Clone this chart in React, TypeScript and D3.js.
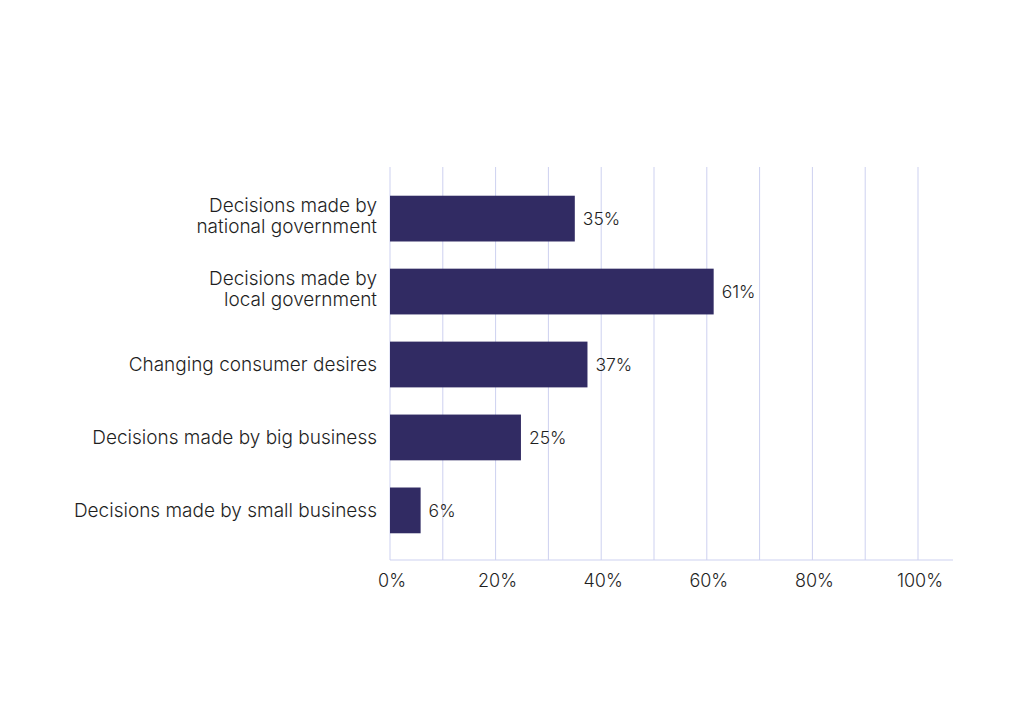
import React from "react";
import * as d3 from "d3";

const categories: string[][] = [
  ["Decisions made by", "national government"],
  ["Decisions made by", "local government"],
  ["Changing consumer desires"],
  ["Decisions made by big business"],
  ["Decisions made by small business"],
];
const values: number[] = [35, 61.3, 37.4, 24.8, 5.8];
const valueLabels: string[] = ["35%", "61%", "37%", "25%", "6%"];
const gridTicks: number[] = [0, 10, 20, 30, 40, 50, 60, 70, 80, 90, 100];
const axisTicks: number[] = [0, 20, 40, 60, 80, 100];

const W = 1024;
const H = 725;
const FONT = "Inter, 'Open Sans', sans-serif";

export default function App() {
  const x = d3.scaleLinear().domain([0, 100]).range([390, 918]);
  const ids = categories.map((_, i) => String(i));
  const y = d3
    .scaleBand<string>()
    .domain(ids)
    .range([168, 561])
    .paddingInner(0.3725)
    .paddingOuter(0.38);
  const barColor = "#312b63";
  const gridColor = "#cdd1f0";
  const textColor = "#1f1f1f";
  const lineH = 21;

  return (
    <svg
      width={W}
      height={H}
      style={{ position: "absolute", left: 0, top: 0, background: "#fff" }}
      fontFamily={FONT}
      fontWeight={300}
    >
      <rect x={0} y={0} width={W} height={H} fill="#fff" />
      {gridTicks.map((t) => (
        <line
          key={t}
          x1={x(t)}
          x2={x(t)}
          y1={167}
          y2={560}
          stroke={gridColor}
          strokeWidth={1}
        />
      ))}
      <line x1={x(0)} x2={953} y1={560} y2={560} stroke={gridColor} strokeWidth={1} />
      {values.map((v, i) => {
        const by = y(String(i))!;
        const bw = y.bandwidth();
        const n = categories[i].length;
        return (
          <g key={i}>
            <rect x={x(0)} y={by} width={x(v) - x(0)} height={bw} fill={barColor} />
            <text
              x={x(v) + 8}
              y={by + bw / 2}
              dy="0.35em"
              fontSize={17.5}
              fontWeight={350}
              fill={textColor}
            >
              {valueLabels[i]}
            </text>
            <text
              x={377}
              y={by + bw / 2 - ((n - 1) * lineH) / 2 - (n > 1 ? 2.5 : 0)}
              fontSize={19}
              fill={textColor}
              textAnchor="end"
            >
              {categories[i].map((line, j) => (
                <tspan key={j} x={377} dy={j === 0 ? "0.35em" : lineH}>
                  {line}
                </tspan>
              ))}
            </text>
          </g>
        );
      })}
      {axisTicks.map((t) => (
        <text
          key={t}
          x={x(t) + 2}
          y={581}
          dy="0.35em"
          fontSize={18}
          fill={textColor}
          textAnchor="middle"
        >
          {t}%
        </text>
      ))}
    </svg>
  );
}
